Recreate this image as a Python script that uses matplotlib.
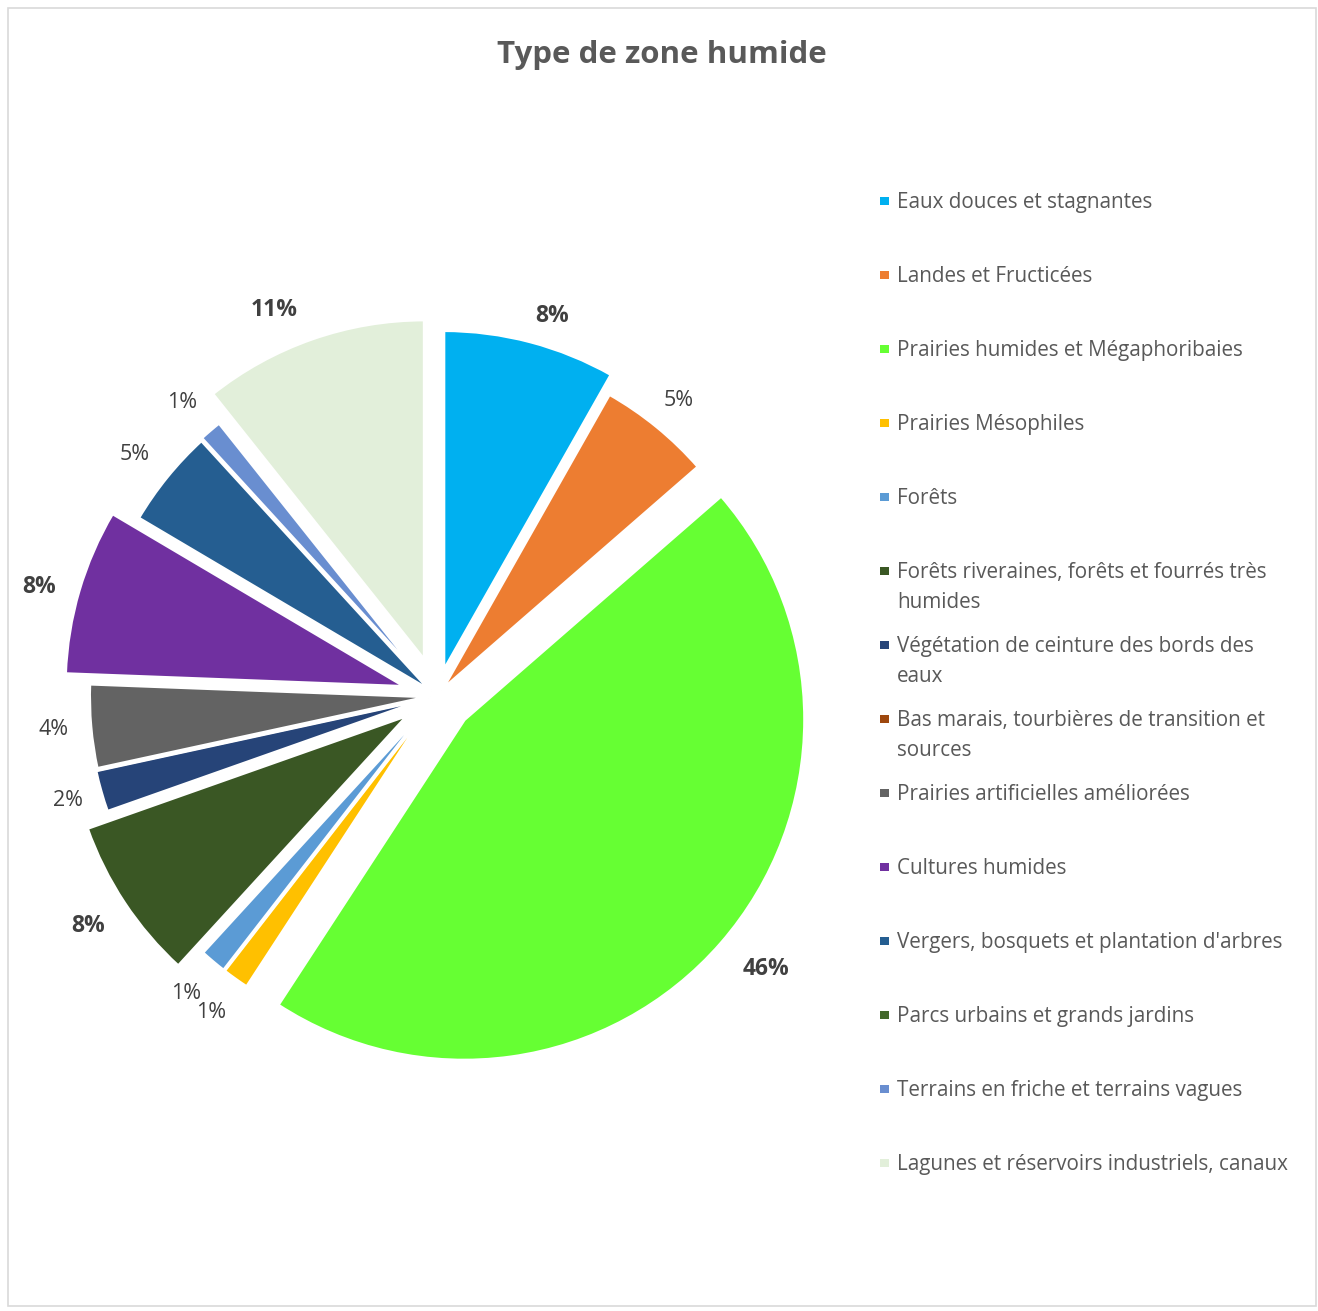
import matplotlib
matplotlib.use("Agg")
import matplotlib.pyplot as plt
import numpy as np
from matplotlib.patches import Rectangle

categories = [
    "Eaux douces et stagnantes",
    "Landes et Fructicées",
    "Prairies humides et Mégaphoribaies",
    "Prairies Mésophiles",
    "Forêts",
    "Forêts riveraines, forêts et fourrés très\nhumides",
    "Végétation de ceinture des bords des\neaux",
    "Bas marais, tourbières de transition et\nsources",
    "Prairies artificielles améliorées",
    "Cultures humides",
    "Vergers, bosquets et plantation d'arbres",
    "Parcs urbains et grands jardins",
    "Terrains en friche et terrains vagues",
    "Lagunes et réservoirs industriels, canaux",
]
values = [8.2, 5.4, 45.6, 1.3, 1.3, 7.8, 2.0, 0.0, 4.0, 7.9, 4.7, 0.0, 1.1, 10.7]
colors = ["#00B0F0", "#ED7D31", "#66FF33", "#FFC000", "#5B9BD5", "#3A5724",
          "#264478", "#9E480E", "#636363", "#7030A0", "#255E91", "#43682B",
          "#698ED0", "#E2EFDA"]

# per-slice explosion, label distance (fractions of the radius) and label angle shift (deg)
explode = [0.075, 0.02, 0.105, 0.02, 0.02, 0.10, 0.025, 0.025, 0.02, 0.095, 0.02, 0.025, 0.025, 0.11]
label_dist = [1.09, 1.10, 1.15, 1.12, 1.12, 1.125, 1.10, 1.10, 1.11, 1.115, 1.115, 1.11, 1.115, 1.12]
label_shift = [-2.3, 0, 1.5, 0, 0, 0, 0, 0, 0, 1.2, 0.5, 0, 0.5, 4.0]

FONT = ["Open Sans", "DejaVu Sans"]
W, H = 1318, 1311
fig = plt.figure(figsize=(W / 100, H / 100), dpi=100)
fig.patch.set_facecolor("white")

# chart border
fig.add_artist(Rectangle((8 / W, 1 - 1306 / H), 1308 / W, 1298 / H, transform=fig.transFigure,
                         fill=False, edgecolor="#D9D9D9", linewidth=1.2))

fig.text(662 / W, 1 - 63 / H, "Type de zone humide", ha="center", va="baseline",
         fontsize=22.5, fontweight="bold", color="#595959", family=FONT)

# pie axes
cx, cy, R = 437, 696, 341
half = 430
ax = fig.add_axes([(cx - half) / W, (H - cy - half) / H, 2 * half / W, 2 * half / H])
total = sum(values)
wedges, _ = ax.pie(values, colors=colors, startangle=90, counterclock=False,
                   explode=explode, radius=1.0,
                   wedgeprops=dict(linewidth=2.6, edgecolor="white"))
lim = half / R
ax.set_xlim(-lim, lim)
ax.set_ylim(-lim, lim)
ax.set_aspect("equal")
ax.axis("off")

for w, v, d, e, s in zip(wedges, values, label_dist, explode, label_shift):
    if v <= 0:
        continue
    mid = (w.theta1 + w.theta2) / 2
    m = np.deg2rad(mid)
    ex, ey = e * np.cos(m), e * np.sin(m)
    a = np.deg2rad(mid + s)
    x = ex + d * np.cos(a)
    y = ey + d * np.sin(a)
    pct = round(v / total * 100)
    bold = v >= 7.5
    ax.text(x, y, f"{pct}%", ha="center", va="center", fontsize=16.5 if bold else 15.5,
            fontweight="bold" if bold else "normal", color="#404040", family=FONT)

# legend
y0 = 201
step = 74
for i, (lab, col) in enumerate(zip(categories, colors)):
    y = y0 + i * step
    fig.add_artist(Rectangle((880 / W, 1 - (y + 4) / H), 9 / W, 8 / H,
                             transform=fig.transFigure, facecolor=col, edgecolor="none"))
    for j, line in enumerate(lab.split("\n")):
        fig.text(897 / W, 1 - (y + 7 + j * 30) / H, line, ha="left", va="baseline",
                 fontsize=14.9, color="#595959", family=FONT)

fig.savefig("out.png", dpi=100, facecolor="white")
